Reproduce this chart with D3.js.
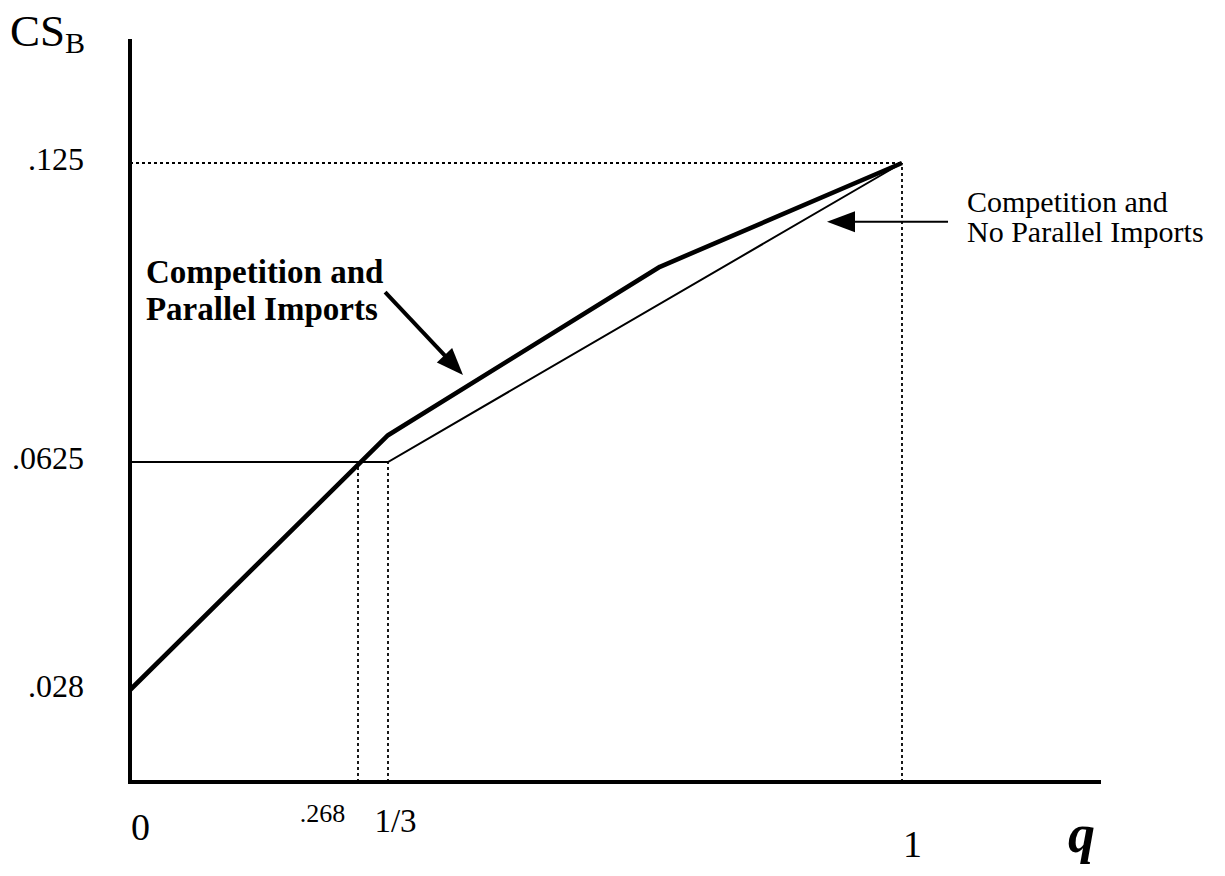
<!DOCTYPE html>
<html><head><meta charset="utf-8">
<script src="https://cdn.jsdelivr.net/npm/d3@7"></script>
<style>
html,body{margin:0;padding:0;background:#fff;}
svg{display:block;}
text{font-family:"Liberation Serif","Times New Roman",Times,serif;fill:#000;}
</style>
</head><body>
<svg id="chart" width="1225" height="876"></svg>
<script>
// ---------------- DATA ----------------
const xTickValues = [0, 0.268, 1/3, 1];
const xTickLabels = ["0", ".268", "1/3", "1"];
const yTickValues = [0.028, 0.0625, 0.125];
const yTickLabels = [".028", ".0625", ".125"];

// Competition and Parallel Imports (thick)
const piQ  = [0, 1/3, 0.686, 1];
const piCS = [0.028, 0.0681, 0.1033, 0.125];
// Competition and No Parallel Imports (thin)
const npiQ  = [0, 1/3, 1];
const npiCS = [0.0625, 0.0625, 0.125];

// dotted guide lines: vertical drops and horizontal reference
const dropQ  = [0.268, 1/3, 1];
const dropCS = [0.0625, 0.0625, 0.125];
const refCS = 0.125;

const piLabel  = ["Competition and", "Parallel Imports"];
const npiLabel = ["Competition and", "No Parallel Imports"];
const yTitle = "CS", yTitleSub = "B", xTitle = "q";

// annotation anchors (data coordinates)
const piArrowFrom = [0.327, 0.0980], piArrowTo = [0.4306, 0.0807];
const piTextAt = [0.0187, 0.0999];
const npiArrowFrom = [1.0597, 0.1127], npiArrowTo = [0.9027, 0.1127];
const npiTextAt = [1.0843, 0.1148];

// ---------------- LAYOUT ----------------
const svg = d3.select("#chart");
// schematic (piecewise) scales
const x = d3.scaleLinear().domain([0, 0.268, 1/3, 1]).range([130, 358, 388, 902]);
const y = d3.scaleLinear().domain([0, 0.028, 0.0625, 0.125]).range([782, 690, 462, 163]);
const axisTop = 39, axisRight = 1101;

// per-tick label styling for x (offset, baseline, size)
const xTickStyle = [
  {dx: 10, base: 840, size: 38},
  {dx: -36, base: 822, size: 26},
  {dx: 7, base: 832, size: 33},
  {dx: 10, base: 857, size: 38}
];

// dotted guides
const dotted = svg.append("g").attr("stroke", "#000").attr("stroke-width", 1.8)
  .attr("stroke-dasharray", "3,3").attr("fill", "none");
dotted.selectAll("line.drop").data(dropQ).join("line").attr("class", "drop")
  .attr("x1", d => x(d)).attr("x2", d => x(d))
  .attr("y1", y(0)).attr("y2", (d, i) => y(dropCS[i]));
dotted.append("line")
  .attr("x1", x(0)).attr("x2", x(1)).attr("y1", y(refCS)).attr("y2", y(refCS));

// series lines
const line = d3.line().x(d => x(d[0])).y(d => y(d[1]));
svg.append("path").datum(npiQ.map((q, i) => [q, npiCS[i]]))
  .attr("d", line).attr("fill", "none").attr("stroke", "#000").attr("stroke-width", 2)
  .attr("stroke-linejoin", "miter");
svg.append("path").datum(piQ.map((q, i) => [q, piCS[i]]))
  .attr("d", line).attr("fill", "none").attr("stroke", "#000").attr("stroke-width", 4.6)
  .attr("stroke-linejoin", "round");

// axes (d3 axes supply the tick labels)
const yAxis = d3.axisLeft(y).tickValues(yTickValues)
  .tickFormat((d, i) => yTickLabels[i]).tickSize(0).tickPadding(46);
const gy = svg.append("g").attr("transform", `translate(${x(0)},0)`).call(yAxis);
gy.select(".domain").remove();
gy.selectAll("text").attr("font-family", "Liberation Serif").attr("font-size", 32)
  .attr("dy", "0.2em").attr("fill", "#000");

const xAxis = d3.axisBottom(x).tickValues(xTickValues)
  .tickFormat((d, i) => xTickLabels[i]).tickSize(0);
const gx = svg.append("g").call(xAxis);
gx.select(".domain").remove();
gx.selectAll("text").each(function(d, i) {
  const s = xTickStyle[i];
  d3.select(this).attr("font-family", "Liberation Serif").attr("font-size", s.size)
    .attr("y", s.base).attr("dy", 0).attr("dx", s.dx).attr("fill", "#000");
});

svg.append("line").attr("x1", x(0)).attr("x2", x(0)).attr("y1", axisTop).attr("y2", y(0) + 2)
  .attr("stroke", "#000").attr("stroke-width", 4);
svg.append("line").attr("x1", x(0) - 2).attr("x2", axisRight).attr("y1", y(0)).attr("y2", y(0))
  .attr("stroke", "#000").attr("stroke-width", 4);

// axis titles
const t = svg.append("text").attr("x", 10).attr("y", 46).attr("font-size", 45).text(yTitle);
t.append("tspan").attr("dy", 7).attr("font-size", 30).text(yTitleSub);
svg.append("text").attr("x", 1068).attr("y", 852).attr("font-size", 54)
  .attr("font-weight", "bold").attr("font-style", "italic").text(xTitle);

// arrows
function arrow(from, to, width, headLen, headHalf) {
  const x1 = x(from[0]), y1 = y(from[1]), x2 = x(to[0]), y2 = y(to[1]);
  const ang = Math.atan2(y2 - y1, x2 - x1);
  const bx = x2 - headLen * Math.cos(ang), by = y2 - headLen * Math.sin(ang);
  svg.append("line").attr("x1", x1).attr("y1", y1)
    .attr("x2", bx + 2 * Math.cos(ang)).attr("y2", by + 2 * Math.sin(ang))
    .attr("stroke", "#000").attr("stroke-width", width);
  const px = -Math.sin(ang), py = Math.cos(ang);
  svg.append("path").attr("d",
    `M${x2},${y2}L${bx + px * headHalf},${by + py * headHalf}L${bx - px * headHalf},${by - py * headHalf}Z`)
    .attr("fill", "#000");
}
arrow(piArrowFrom, piArrowTo, 4, 27, 10.5);
arrow(npiArrowFrom, npiArrowTo, 2, 28, 10.5);

// annotation texts
const pt = svg.append("text").attr("x", x(piTextAt[0])).attr("y", y(piTextAt[1]))
  .attr("font-size", 33).attr("font-weight", "bold");
piLabel.forEach((s, i) => pt.append("tspan").attr("x", x(piTextAt[0])).attr("dy", i ? 37 : 0).text(s));
const nt = svg.append("text").attr("x", x(npiTextAt[0])).attr("y", y(npiTextAt[1]))
  .attr("font-size", 30);
npiLabel.forEach((s, i) => nt.append("tspan").attr("x", x(npiTextAt[0])).attr("dy", i ? 30 : 0).text(s));
</script>
</body></html>
